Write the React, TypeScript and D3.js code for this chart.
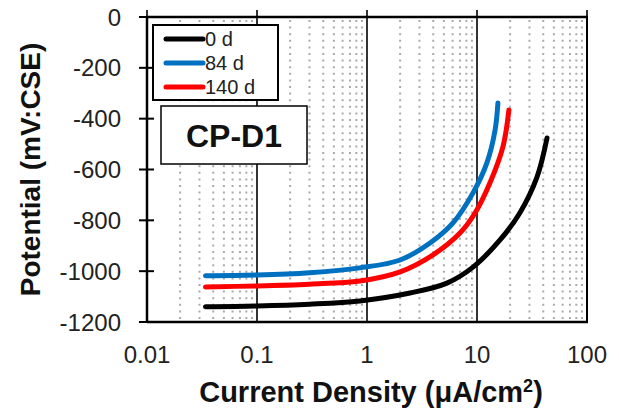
import React from "react";
import * as d3 from "d3";

const seriesNames = ["0 d", "84 d", "140 d"];
const seriesColors = ["#000000", "#0070C0", "#FF0000"];

const x0d = [0.034, 0.1, 0.3, 0.86, 2.46, 5.33, 9.2, 16.2, 24.5, 35.1, 43.3];
const y0d = [-1140, -1137, -1130, -1117, -1086, -1047, -984, -877, -771, -630, -476];

const x84d = [0.034, 0.1, 0.3, 0.86, 2.0, 3.74, 6.05, 9.2, 12.3, 14.6, 15.5];
const y84d = [-1018, -1015, -1006, -987, -956, -889, -810, -692, -574, -445, -338];

const x140d = [0.034, 0.1, 0.3, 0.86, 2.0, 3.98, 7.0, 9.6, 13.1, 17.2, 19.5];
const y140d = [-1062, -1058, -1051, -1039, -1003, -936, -850, -771, -653, -511, -366];

const xTicks = [0.01, 0.1, 1, 10, 100];
const xTickLabels = ["0.01", "0.1", "1", "10", "100"];
const yTicks = [0, -200, -400, -600, -800, -1000, -1200];

const width = 619;
const height = 415;
const margin = { top: 17, right: 32, bottom: 93, left: 147 };

export default function App() {
  const x = d3
    .scaleLog()
    .domain([0.01, 100])
    .range([margin.left, width - margin.right]);
  const y = d3
    .scaleLinear()
    .domain([-1200, 0])
    .range([height - margin.bottom, margin.top]);

  const line = d3
    .line<[number, number]>()
    .x((d) => x(d[0]))
    .y((d) => y(d[1]))
    .curve(d3.curveCatmullRom.alpha(0.5));

  const series = [
    x0d.map((v, i) => [v, y0d[i]] as [number, number]),
    x84d.map((v, i) => [v, y84d[i]] as [number, number]),
    x140d.map((v, i) => [v, y140d[i]] as [number, number]),
  ];

  // minor grid: 2..9 in each decade
  const minor: number[] = [];
  for (let dec = 0.01; dec < 100; dec *= 10) {
    for (let k = 2; k <= 9; k++) minor.push(dec * k);
  }

  const top = y(0);
  const bottom = y(-1200);
  const left = x(0.01);
  const right = x(100);
  const font = "'Liberation Sans', Arial, sans-serif";

  return (
    <svg
      width={width}
      height={height}
      style={{ position: "absolute", left: 0, top: 0, background: "#fff" }}
      fontFamily={font}
    >
      {/* dotted minor grid */}
      {minor.map((v, i) => (
        <line
          key={"m" + i}
          x1={x(v)}
          x2={x(v)}
          y1={top + 3}
          y2={bottom}
          stroke="#aaaaaa"
          strokeWidth={2}
          strokeDasharray="2 4.6"
        />
      ))}

      {/* decade lines */}
      {xTicks.map((v) => (
        <line
          key={"d" + v}
          x1={x(v)}
          x2={x(v)}
          y1={top - 7}
          y2={bottom}
          stroke="#000"
          strokeWidth={1.6}
        />
      ))}

      {/* frame */}
      <line x1={left} x2={right + 1} y1={top} y2={top} stroke="#000" strokeWidth={2.5} />
      <line x1={left} x2={right + 1} y1={bottom} y2={bottom} stroke="#000" strokeWidth={2.5} />
      <line x1={left} x2={left} y1={top} y2={bottom + 1} stroke="#000" strokeWidth={2.5} />
      <line x1={right} x2={right} y1={top} y2={bottom + 1} stroke="#000" strokeWidth={2} />

      {/* y ticks */}
      {yTicks.map((v) => (
        <g key={"y" + v}>
          <line x1={left - 8} x2={left + 7} y1={y(v)} y2={y(v)} stroke="#000" strokeWidth={2} />
          <text
            x={121}
            y={y(v)}
            dy="0.36em"
            textAnchor="end"
            fontSize={24}
            fill="#222"
          >
            {v}
          </text>
        </g>
      ))}

      {/* x tick labels */}
      {xTicks.map((v, i) => (
        <text
          key={"xl" + v}
          x={x(v)}
          y={363}
          textAnchor="middle"
          fontSize={24}
          fill="#222"
        >
          {xTickLabels[i]}
        </text>
      ))}

      {/* curves */}
      {series.map((s, i) => (
        <path
          key={"s" + i}
          d={line(s) || ""}
          fill="none"
          stroke={seriesColors[i]}
          strokeWidth={5}
          strokeLinecap="round"
        />
      ))}

      {/* legend */}
      <rect x={153} y={25} width={125} height={75} fill="#fff" stroke="#000" strokeWidth={2} />
      {seriesNames.map((n, i) => (
        <g key={"lg" + i}>
          <line
            x1={166}
            x2={203}
            y1={39 + i * 24}
            y2={39 + i * 24}
            stroke={seriesColors[i]}
            strokeWidth={5}
            strokeLinecap="round"
          />
          <text x={205} y={39 + i * 24} dy="0.36em" fontSize={20} fill="#222">
            {n}
          </text>
        </g>
      ))}

      {/* sample label */}
      <rect x={161} y={106} width={146} height={58} fill="#fff" stroke="#000" strokeWidth={1.5} />
      <text
        x={234}
        y={135}
        dy="0.36em"
        textAnchor="middle"
        fontSize={32}
        fontWeight="bold"
        fill="#111"
      >
        CP-D1
      </text>

      {/* axis titles */}
      <text
        transform={`translate(40, ${(top + bottom) / 2}) rotate(-90)`}
        textAnchor="middle"
        fontSize={28}
        fontWeight="bold"
        fill="#111"
      >
        Potential (mV:CSE)
      </text>
      <text
        x={371}
        y={402}
        textAnchor="middle"
        fontSize={29}
        fontWeight="bold"
        fill="#111"
      >
        Current Density (μA/cm<tspan dy="-10" fontSize={18}>2</tspan>
        <tspan dy="10">)</tspan>
      </text>
    </svg>
  );
}
